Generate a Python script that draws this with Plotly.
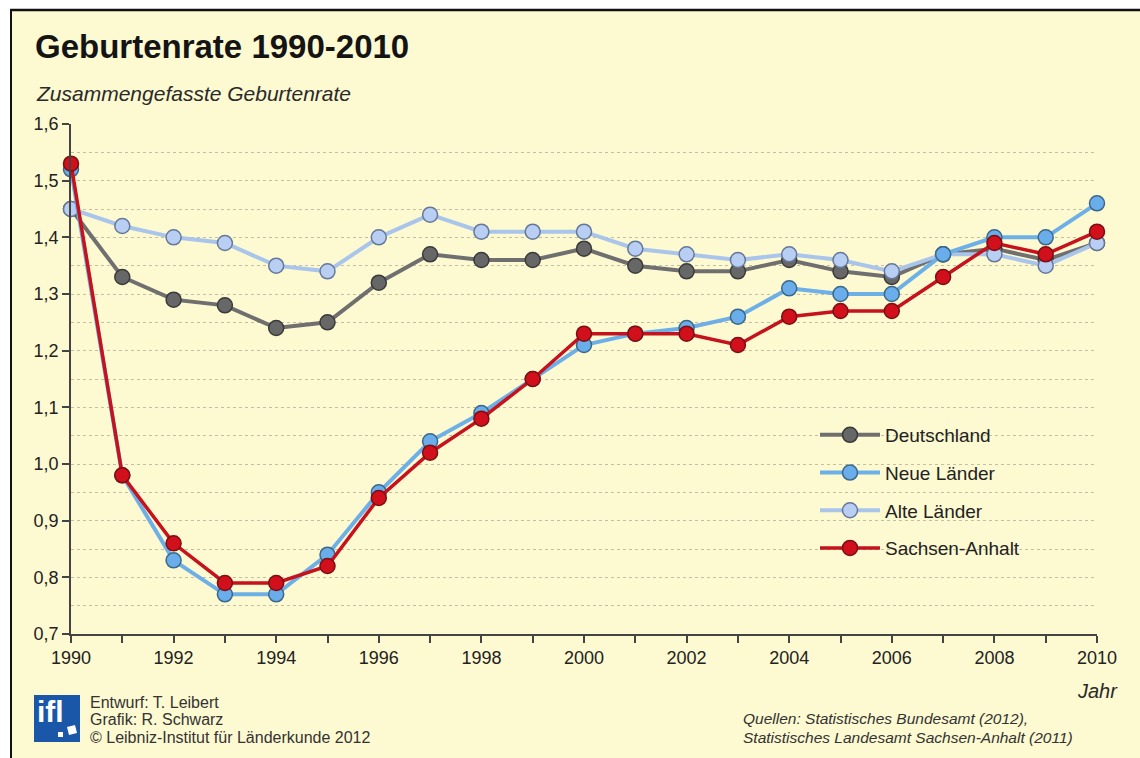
import plotly.graph_objects as go

# ---------------- data ----------------
years = list(range(1990, 2011))
deutschland = [1.45, 1.33, 1.29, 1.28, 1.24, 1.25, 1.32, 1.37, 1.36, 1.36, 1.38,
               1.35, 1.34, 1.34, 1.36, 1.34, 1.33, 1.37, 1.38, 1.36, 1.39]
neue_laender = [1.52, 0.98, 0.83, 0.77, 0.77, 0.84, 0.95, 1.04, 1.09, 1.15, 1.21,
                1.23, 1.24, 1.26, 1.31, 1.30, 1.30, 1.37, 1.40, 1.40, 1.46]
alte_laender = [1.45, 1.42, 1.40, 1.39, 1.35, 1.34, 1.40, 1.44, 1.41, 1.41, 1.41,
                1.38, 1.37, 1.36, 1.37, 1.36, 1.34, 1.37, 1.37, 1.35, 1.39]
sachsen_anhalt = [1.53, 0.98, 0.86, 0.79, 0.79, 0.82, 0.94, 1.02, 1.08, 1.15, 1.23,
                  1.23, 1.23, 1.21, 1.26, 1.27, 1.27, 1.33, 1.39, 1.37, 1.41]

series = [
    # name, values, line colour, marker fill, marker outline, line width, legend rank
    ("Deutschland", deutschland, "#6f6f6f", "#676767", "#3a3a3a", 4, 1),
    ("Alte Länder", alte_laender, "#a9c5ec", "#b8cff3", "#65789a", 4, 3),
    ("Neue Länder", neue_laender, "#6db0e8", "#69adeb", "#3c6788", 4, 2),
    ("Sachsen-Anhalt", sachsen_anhalt, "#c5121d", "#d1101c", "#7a0f14", 3.5, 4),
]

W, H = 1140, 758
L, R, T, B = 71, 1097, 124, 634
BG = "#FDF9D1"
FONT = "Liberation Sans, Arial, sans-serif"


def px(x):
    return (x - L) / (R - L)


def py(y):
    return (B - y) / (B - T)


fig = go.Figure()
for name, vals, lc, mf, mo, lw, rank in series:
    fig.add_trace(go.Scatter(
        x=years, y=vals, name=name, mode="lines+markers",
        line=dict(color=lc, width=lw),
        marker=dict(size=15, color=mf, line=dict(color=mo, width=1.5)),
        cliponaxis=False, legendrank=rank, legendgroup=name,
    ))

shapes = [
    # white outer margin + black frame (top, left)
    dict(type="rect", xref="paper", yref="paper", x0=px(0), x1=px(W), y0=py(0), y1=py(9),
         fillcolor="white", line=dict(width=0), layer="below"),
    dict(type="rect", xref="paper", yref="paper", x0=px(0), x1=px(11), y0=py(0), y1=py(H),
         fillcolor="white", line=dict(width=0), layer="below"),
    dict(type="line", xref="paper", yref="paper", x0=px(10), x1=px(W), y0=py(10), y1=py(10),
         line=dict(color="#111111", width=2.5)),
    dict(type="line", xref="paper", yref="paper", x0=px(11), x1=px(11), y0=py(9), y1=py(H),
         line=dict(color="#111111", width=2)),
    # ifl logo
    dict(type="rect", xref="paper", yref="paper", x0=px(34), x1=px(80), y0=py(695), y1=py(742),
         fillcolor="#1a57a8", line=dict(width=0)),
    dict(type="rect", xref="paper", yref="paper", x0=px(58), x1=px(63), y0=py(732), y1=py(737),
         fillcolor="white", line=dict(width=0)),
    dict(type="path", xref="paper", yref="paper",
         path=f"M {px(67)},{py(727)} L {px(75)},{py(725)} L {px(77)},{py(733)} L {px(69)},{py(735)} Z",
         fillcolor="white", line=dict(width=0)),
]

ann_common = dict(xref="paper", yref="paper", showarrow=False)
annotations = [
    dict(text="<b>Geburtenrate 1990-2010</b>", x=px(33), y=py(46), xanchor="left", yanchor="middle",
         font=dict(family=FONT, size=33, color="#141414"), **ann_common),
    dict(text="<i>Zusammengefasste Geburtenrate</i>", x=px(34), y=py(93), xanchor="left",
         yanchor="middle", font=dict(family=FONT, size=21, color="#2a2a2a"), **ann_common),
    dict(text="<i>Jahr</i>", x=px(1120), y=py(691), xanchor="right", yanchor="middle",
         font=dict(family=FONT, size=20, color="#2a2a2a"), **ann_common),
    dict(text="<b>ifl</b>", x=px(35), y=py(711), xanchor="left", yanchor="middle",
         font=dict(family=FONT, size=30, color="white"), **ann_common),
    dict(text="Entwurf: T. Leibert", x=px(88), y=py(702), xanchor="left", yanchor="middle",
         font=dict(family=FONT, size=16, color="#333333"), **ann_common),
    dict(text="Grafik: R. Schwarz", x=px(88), y=py(719), xanchor="left", yanchor="middle",
         font=dict(family=FONT, size=16, color="#333333"), **ann_common),
    dict(text="© Leibniz-Institut für Länderkunde 2012", x=px(88), y=py(737), xanchor="left",
         yanchor="middle", font=dict(family=FONT, size=16, color="#333333"), **ann_common),
    dict(text="<i>Quellen: Statistisches Bundesamt (2012),</i>", x=px(741), y=py(718),
         xanchor="left", yanchor="middle", font=dict(family=FONT, size=15.5, color="#333333"),
         **ann_common),
    dict(text="<i>Statistisches Landesamt Sachsen-Anhalt (2011)</i>", x=px(741), y=py(737),
         xanchor="left", yanchor="middle", font=dict(family=FONT, size=15.5, color="#333333"),
         **ann_common),
]

fig.update_layout(
    width=W, height=H,
    margin=dict(l=L, r=W - R, t=T, b=H - B, pad=0),
    paper_bgcolor=BG, plot_bgcolor=BG,
    separators=",.",
    font=dict(family=FONT, size=18, color="#222222"),
    showlegend=True,
    legend=dict(x=px(815), y=py(416), xanchor="left", yanchor="top",
                bgcolor="rgba(0,0,0,0)", font=dict(family=FONT, size=19, color="#222222"),
                tracegroupgap=10, itemwidth=60, traceorder="grouped"),
    shapes=shapes, annotations=annotations,
    xaxis=dict(range=[1990, 2010], dtick=2, tick0=1990, showgrid=False, zeroline=False,
               showline=True, linecolor="#444444", linewidth=1.5,
               ticks="outside", ticklen=7, tickwidth=1.5, tickcolor="#444444",
               tickfont=dict(size=18, color="#222222"),
               minor=dict(dtick=1, ticks="outside", ticklen=7, tickwidth=1.5,
                          tickcolor="#444444", showgrid=False)),
    yaxis=dict(range=[0.7, 1.6], dtick=0.1, tick0=0.7, tickformat=".1f", zeroline=False,
               showline=True, linecolor="#444444", linewidth=1.5,
               ticks="outside", ticklen=7, tickwidth=1.5, tickcolor="#444444",
               tickfont=dict(size=18, color="#222222"),
               showgrid=True, gridcolor="#c4bea3", griddash="dot", gridwidth=1,
               minor=dict(dtick=0.05, showgrid=True, gridcolor="#c4bea3", griddash="dot",
                          gridwidth=1)),
)

fig.write_html("out.html", config={"displayModeBar": False},
               post_script="document.body.style.margin='0';")
